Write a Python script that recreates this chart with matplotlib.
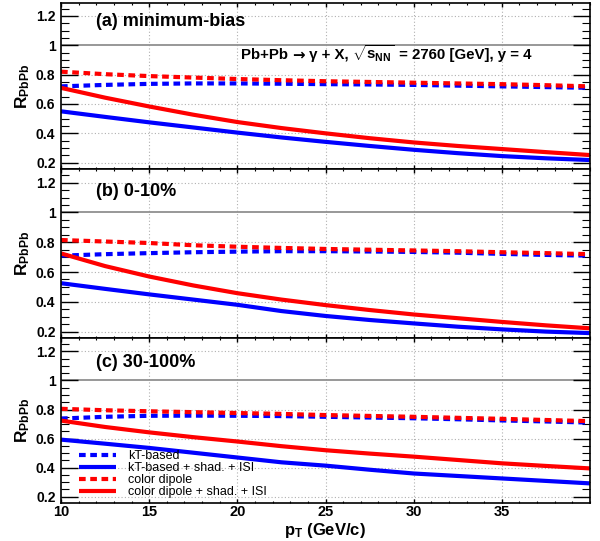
import matplotlib
matplotlib.use("Agg")
import matplotlib.pyplot as plt
from matplotlib.ticker import MultipleLocator, FixedLocator, FuncFormatter

plt.rcParams['font.family'] = ['Liberation Sans', 'DejaVu Sans']
plt.rcParams['mathtext.fontset'] = 'custom'
plt.rcParams['mathtext.rm'] = 'Liberation Sans:bold'
plt.rcParams['mathtext.bf'] = 'Liberation Sans:bold'
plt.rcParams['mathtext.it'] = 'Liberation Sans:bold'
plt.rcParams['mathtext.sf'] = 'Liberation Sans:bold'
plt.rcParams['mathtext.default'] = 'rm'

# ---------------- data ----------------
pt = [10, 12.5, 15, 17.5, 20, 22.5, 25, 27.5, 30, 32.5, 35, 37.5, 40]

panel_labels = ["(a) minimum-bias", "(b) 0-10%", "(c) 30-100%"]
series_labels = ["kT-based", "kT-based + shad. + ISI", "color dipole",
                 "color dipole + shad. + ISI"]

# panel (a) minimum-bias
a_kt = [0.72, 0.73, 0.737, 0.74, 0.74, 0.738, 0.735, 0.733, 0.73, 0.725, 0.72, 0.715, 0.71]
a_kt_shad = [0.55, 0.512, 0.475, 0.44, 0.405, 0.372, 0.342, 0.314, 0.288, 0.265, 0.245, 0.23, 0.218]
a_cd = [0.82, 0.803, 0.79, 0.78, 0.77, 0.762, 0.755, 0.75, 0.745, 0.74, 0.735, 0.728, 0.72]
a_cd_shad = [0.71, 0.643, 0.583, 0.527, 0.477, 0.436, 0.40, 0.367, 0.338, 0.314, 0.293, 0.272, 0.252]

# panel (b) 0-10%
b_kt = [0.71, 0.72, 0.727, 0.733, 0.737, 0.74, 0.74, 0.738, 0.735, 0.73, 0.722, 0.715, 0.71]
b_kt_shad = [0.525, 0.487, 0.45, 0.415, 0.38, 0.338, 0.305, 0.278, 0.255, 0.233, 0.215, 0.2, 0.19]
b_cd = [0.815, 0.805, 0.795, 0.78, 0.77, 0.762, 0.755, 0.75, 0.745, 0.74, 0.733, 0.727, 0.72]
b_cd_shad = [0.725, 0.64, 0.57, 0.51, 0.458, 0.415, 0.378, 0.345, 0.315, 0.29, 0.265, 0.242, 0.222]

# panel (c) 30-100%
c_kt = [0.738, 0.75, 0.757, 0.758, 0.757, 0.755, 0.75, 0.745, 0.74, 0.733, 0.725, 0.718, 0.71]
c_kt_shad = [0.593, 0.565, 0.536, 0.503, 0.47, 0.437, 0.414, 0.386, 0.36, 0.343, 0.326, 0.309, 0.292]
c_cd = [0.805, 0.795, 0.788, 0.782, 0.776, 0.77, 0.762, 0.756, 0.75, 0.743, 0.736, 0.728, 0.72]
c_cd_shad = [0.724, 0.68, 0.643, 0.61, 0.58, 0.548, 0.52, 0.497, 0.476, 0.453, 0.43, 0.412, 0.395]

panels = [(a_kt, a_kt_shad, a_cd, a_cd_shad),
          (b_kt, b_kt_shad, b_cd, b_cd_shad),
          (c_kt, c_kt_shad, c_cd, c_cd_shad)]

xticks = [10, 15, 20, 25, 30, 35]
yticks = [0.2, 0.4, 0.6, 0.8, 1.0, 1.2]

# ---------------- figure ----------------
W, H = 600, 541
fig = plt.figure(figsize=(W / 100, H / 100), dpi=100)

left_px, right_px = 61, 590
bounds_px = [(2.7, 169.3), (169.3, 338.3), (338.3, 503.3)]

styles = [dict(color='#0000ff', ls=(0, (1.6, 1.1))),
          dict(color='#0000ff', ls='-'),
          dict(color='#ff0000', ls=(0, (1.6, 1.1))),
          dict(color='#ff0000', ls='-')]

for i, (top, bot) in enumerate(bounds_px):
    ax = fig.add_axes([left_px / W, 1 - bot / H, (right_px - left_px) / W, (bot - top) / H])
    ax.set_xlim(10, 40)
    ax.set_ylim(0.155, 1.29)

    # grid
    for xv in xticks[1:]:
        ax.axvline(xv, color='#b0b0b0', lw=0.8, ls=(0, (1, 2)), zorder=0)
    for yv in yticks:
        if yv == 1.0:
            ax.axhline(yv, color='#909090', lw=1.3, ls='-', zorder=0)
        else:
            ax.axhline(yv, color='#b0b0b0', lw=0.8, ls=(0, (1, 2)), zorder=0)

    handles = []
    for ys, st, lab in zip(panels[i], styles, series_labels):
        h, = ax.plot(pt, ys, lw=3.0, solid_capstyle='butt', dash_capstyle='butt',
                     label=lab, **st)
        handles.append(h)

    ax.xaxis.set_major_locator(FixedLocator(xticks))
    ax.xaxis.set_minor_locator(MultipleLocator(1))
    ax.yaxis.set_major_locator(FixedLocator(yticks))
    ax.yaxis.set_minor_locator(MultipleLocator(0.05))
    ax.yaxis.set_major_formatter(FuncFormatter(lambda v, p: ('%g' % round(v, 2))))

    ax.tick_params(axis='x', which='major', direction='in', length=3, width=1,
                   top=True, bottom=True, labelsize=10.5, pad=1)
    ax.tick_params(axis='x', which='minor', direction='in', length=1.5, width=0.8,
                   top=True, bottom=True)
    ax.tick_params(axis='y', which='major', direction='in', length=12, width=1,
                   left=True, right=True, labelsize=10, pad=4)
    ax.tick_params(axis='y', which='minor', direction='in', length=6, width=0.8,
                   left=True, right=True)
    for lab in ax.get_xticklabels() + ax.get_yticklabels():
        lab.set_fontweight('bold')
    if i < 2:
        ax.tick_params(axis='x', labelbottom=False)
    for sp in ax.spines.values():
        sp.set_linewidth(1.2)

    fig.text(96 / W, 1 - [22, 191.5, 362.5][i] / H, panel_labels[i], fontsize=13,
             fontweight='bold', ha='left', va='center')

    fig.text(23 / W, 1 - ((top + bot) / 2) / H, r'R$_{\mathbf{PbPb}}$', fontsize=12.5,
             rotation=90, ha='center', va='center', fontweight='bold')

    if i == 2:
        ax.legend(handles=handles, loc='upper left',
                  bbox_to_anchor=(79 / W, 1 - 450 / H), bbox_transform=fig.transFigure,
                  frameon=False, fontsize=9, handlelength=3.0, handletextpad=0.9,
                  labelspacing=0.0, borderpad=0, borderaxespad=0)

# header line built from pieces so the arrow can use a font with a long arrow glyph
renderer = fig.canvas.get_renderer()
pieces = [('Pb+Pb ', dict(family=['Liberation Sans'])),
          ('\u2192', dict(family=['DejaVu Sans'])),
          (' \u03b3 + X, ', dict(family=['Liberation Sans'])),
          (r'$\sqrt{\mathbf{s_{NN}}}$', dict(family=['Liberation Sans'])),
          (' = 2760 [GeV], y = 4', dict(family=['Liberation Sans']))]
xpos = 241
for txt, kw in pieces:
    t = fig.text(xpos / W, 1 - 59 / H, txt, fontsize=10.8, fontweight='bold',
                 ha='left', va='baseline', **kw)
    bb = t.get_window_extent(renderer=renderer)
    xpos += bb.width

fig.text(325 / W, 1 - 535 / H, r'p$_{\mathbf{T}}$ (GeV/c)', fontsize=12,
         fontweight='bold', ha='center', va='baseline')

fig.savefig('out.png', dpi=100)
